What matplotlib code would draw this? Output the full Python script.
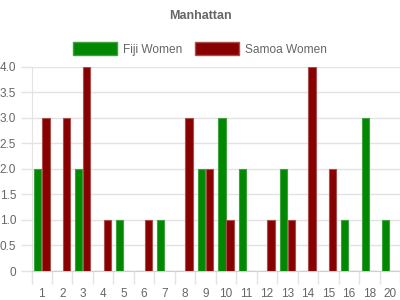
import matplotlib
matplotlib.use('Agg')
import matplotlib.pyplot as plt
import numpy as np

# chart data
categories = ['1', '2', '3', '4', '5', '6', '7', '8', '9', '10',
              '11', '12', '13', '14', '15', '16', '18', '20']
fiji_women = [2, 0, 2, 0, 1, 0, 1, 0, 2, 3, 2, 0, 2, 0, 0, 1, 3, 1]
samoa_women = [3, 3, 4, 1, 0, 1, 0, 3, 2, 1, 0, 1, 1, 4, 2, 0, 0, 0]

plt.rcParams['font.family'] = ['Liberation Sans', 'DejaVu Sans']
txt = '#666666'
grid = '#e3e3e3'

fig = plt.figure(figsize=(4, 3), dpi=100)
ax = fig.add_axes([31.5 / 400, 29 / 300, 368.5 / 400, 204.3 / 300])

x = np.arange(len(categories))
w = 0.36
ax.bar(x - 0.2, fiji_women, w, color='#008800', edgecolor='#40a040',
       linewidth=0.8, label='Fiji Women', zorder=3)
ax.bar(x + 0.2, samoa_women, w, color='#880000', edgecolor='#a85050',
       linewidth=0.8, label='Samoa Women', zorder=3)

ax.set_xlim(-0.5, len(categories) - 0.5)
ax.set_ylim(0, 4)
ax.set_yticks(np.arange(0, 4.01, 0.5))
ax.set_yticklabels(['0'] + ['%.1f' % v for v in np.arange(0.5, 4.01, 0.5)])
ax.yaxis.grid(True, color=grid, linewidth=1, zorder=0)

# category labels at centres, tick marks at boundaries
ax.set_xticks(x)
ax.set_xticklabels(categories)
ax.set_xticks(np.arange(-0.5, len(categories)), minor=True)
ax.tick_params(axis='x', which='major', length=0, pad=12, labelsize=8.5, labelcolor=txt)
ax.tick_params(axis='x', which='minor', length=9, color=grid, width=1)
ax.tick_params(axis='y', length=8, color=grid, width=1, pad=3, labelsize=8.5, labelcolor=txt)

for s in ['top', 'right']:
    ax.spines[s].set_visible(False)
ax.spines['left'].set_color(grid)
ax.spines['bottom'].set_color('#d0d0d0')

fig.text(0.5, 1 - 16 / 300, 'Manhattan', ha='center', va='center',
         fontsize=9, fontweight='bold', color=txt)

leg = fig.legend(loc='center', bbox_to_anchor=(0.5, 1 - 49 / 300), ncol=2,
                 frameon=False, fontsize=8.6, handlelength=3.7, handleheight=1.25,
                 handletextpad=0.5, columnspacing=1.0, labelcolor=txt)
for h in leg.legend_handles:
    h.set_linewidth(1.0)

fig.savefig('out.png', dpi=100)
